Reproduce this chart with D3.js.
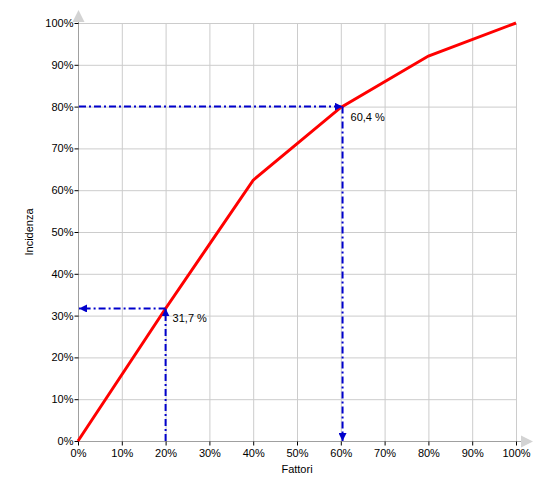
<!DOCTYPE html>
<html><head><meta charset="utf-8">
<script src="https://cdn.jsdelivr.net/npm/d3@7"></script>
<style>body{margin:0;background:#fff}text{font-family:"Liberation Sans",Arial,sans-serif}</style>
</head><body><svg id="c" width="550" height="500"></svg>
<script>
const xTicks = [0,10,20,30,40,50,60,70,80,90,100];
const yTicks = [0,10,20,30,40,50,60,70,80,90,100];
const curveX = [0,20,40,60,80,100];
const curveY = [0,31.7,62.4,79.8,92.1,100];
const guideX = [20,60.4];
const guideY = [31.7,80];
const guideLabels = ["31,7 %","60,4 %"];
const xTitle = "Fattori", yTitle = "Incidenza";

const svg = d3.select("#c");
const L=78,R=516,T=23,B=441;
const x = d3.scaleLinear().domain([0,100]).range([L,R]);
const y = d3.scaleLinear().domain([0,100]).range([B,T]);

const defs = svg.append("defs");
defs.append("marker").attr("id","ah").attr("viewBox","0 0 10 10").attr("refX",10).attr("refY",5)
  .attr("markerWidth",4).attr("markerHeight",4).attr("orient","auto-start-reverse")
  .append("path").attr("d","M0,0L10,5L0,10Z").attr("fill","#0000cc");

// grid
svg.append("g").selectAll("line").data(xTicks.slice(1)).join("line")
  .attr("x1",d=>x(d)+0.5).attr("x2",d=>x(d)+0.5).attr("y1",T).attr("y2",B).attr("stroke","#cccccc");
svg.append("g").selectAll("line").data(yTicks.slice(1)).join("line")
  .attr("y1",d=>y(d)+0.5).attr("y2",d=>y(d)+0.5).attr("x1",L).attr("x2",R).attr("stroke","#cccccc");

// axes
const xa = svg.append("g").attr("transform",`translate(0,${B+0.5})`)
  .call(d3.axisBottom(x).tickValues(xTicks).tickFormat(d=>d+"%").tickSize(4).tickSizeOuter(0));
const ya = svg.append("g").attr("transform",`translate(${L+0.5},0)`)
  .call(d3.axisLeft(y).tickValues(yTicks).tickFormat(d=>d+"%").tickSize(4).tickSizeOuter(0));
[xa,ya].forEach(a=>{
  a.select(".domain").attr("stroke","#a0a0a0");
  a.selectAll(".tick line").attr("stroke","#000");
  a.selectAll(".tick text").attr("font-size",11).attr("fill","#000").attr("font-family","Liberation Sans, Arial, sans-serif");
});
xa.select(".domain").attr("d",`M${L},0H${R+6}`);
ya.select(".domain").attr("d",`M0,${B}V${T-6}`);
ya.selectAll(".tick text").attr("x",-5);
xa.selectAll(".tick text").attr("y",8);

// axis arrows
svg.append("path").attr("d",`M${L+0.5-6},${T-1}L${L+0.5},${T-13}L${L+0.5+6},${T-1}Z`).attr("fill","#d3d3d3");
svg.append("path").attr("d",`M${R+5},${B+0.5-6}L${R+17},${B+0.5}L${R+5},${B+0.5+6}Z`).attr("fill","#d3d3d3");

// curve
svg.append("path").datum(curveX.map((d,i)=>[d,curveY[i]]))
  .attr("d",d3.line().x(d=>x(d[0])).y(d=>y(d[1])))
  .attr("fill","none").attr("stroke","#ff0000").attr("stroke-width",3);

// guides
const gs={stroke:"#0000cc","stroke-width":2,"stroke-dasharray":"7,3,2,3",fill:"none"};
function gl(x1,y1,x2,y2){const l=svg.append("line").attr("x1",x1).attr("y1",y1).attr("x2",x2).attr("y2",y2).attr("marker-end","url(#ah)");Object.entries(gs).forEach(([k,v])=>l.attr(k,v));}
// first: x given -> up then left
gl(x(guideX[0]),B,x(guideX[0]),y(guideY[0]));
gl(x(guideX[0]),y(guideY[0]),L+1,y(guideY[0]));
// second: y given -> right then down
gl(L+1,y(guideY[1]),x(guideX[1]),y(guideY[1]));
gl(x(guideX[1]),y(guideY[1]),x(guideX[1]),B);

svg.append("text").attr("x",x(guideX[0])+7).attr("y",y(guideY[0])+14).attr("font-size",11).text(guideLabels[0]);
svg.append("text").attr("x",x(guideX[1])+8).attr("y",y(guideY[1])+14).attr("font-size",11).text(guideLabels[1]);

svg.append("text").attr("x",(L+R)/2).attr("y",473).attr("text-anchor","middle").attr("font-size",11).text(xTitle);
svg.append("text").attr("transform",`translate(33,${(T+B)/2}) rotate(-90)`).attr("text-anchor","middle").attr("font-size",11).text(yTitle);
</script></body></html>
